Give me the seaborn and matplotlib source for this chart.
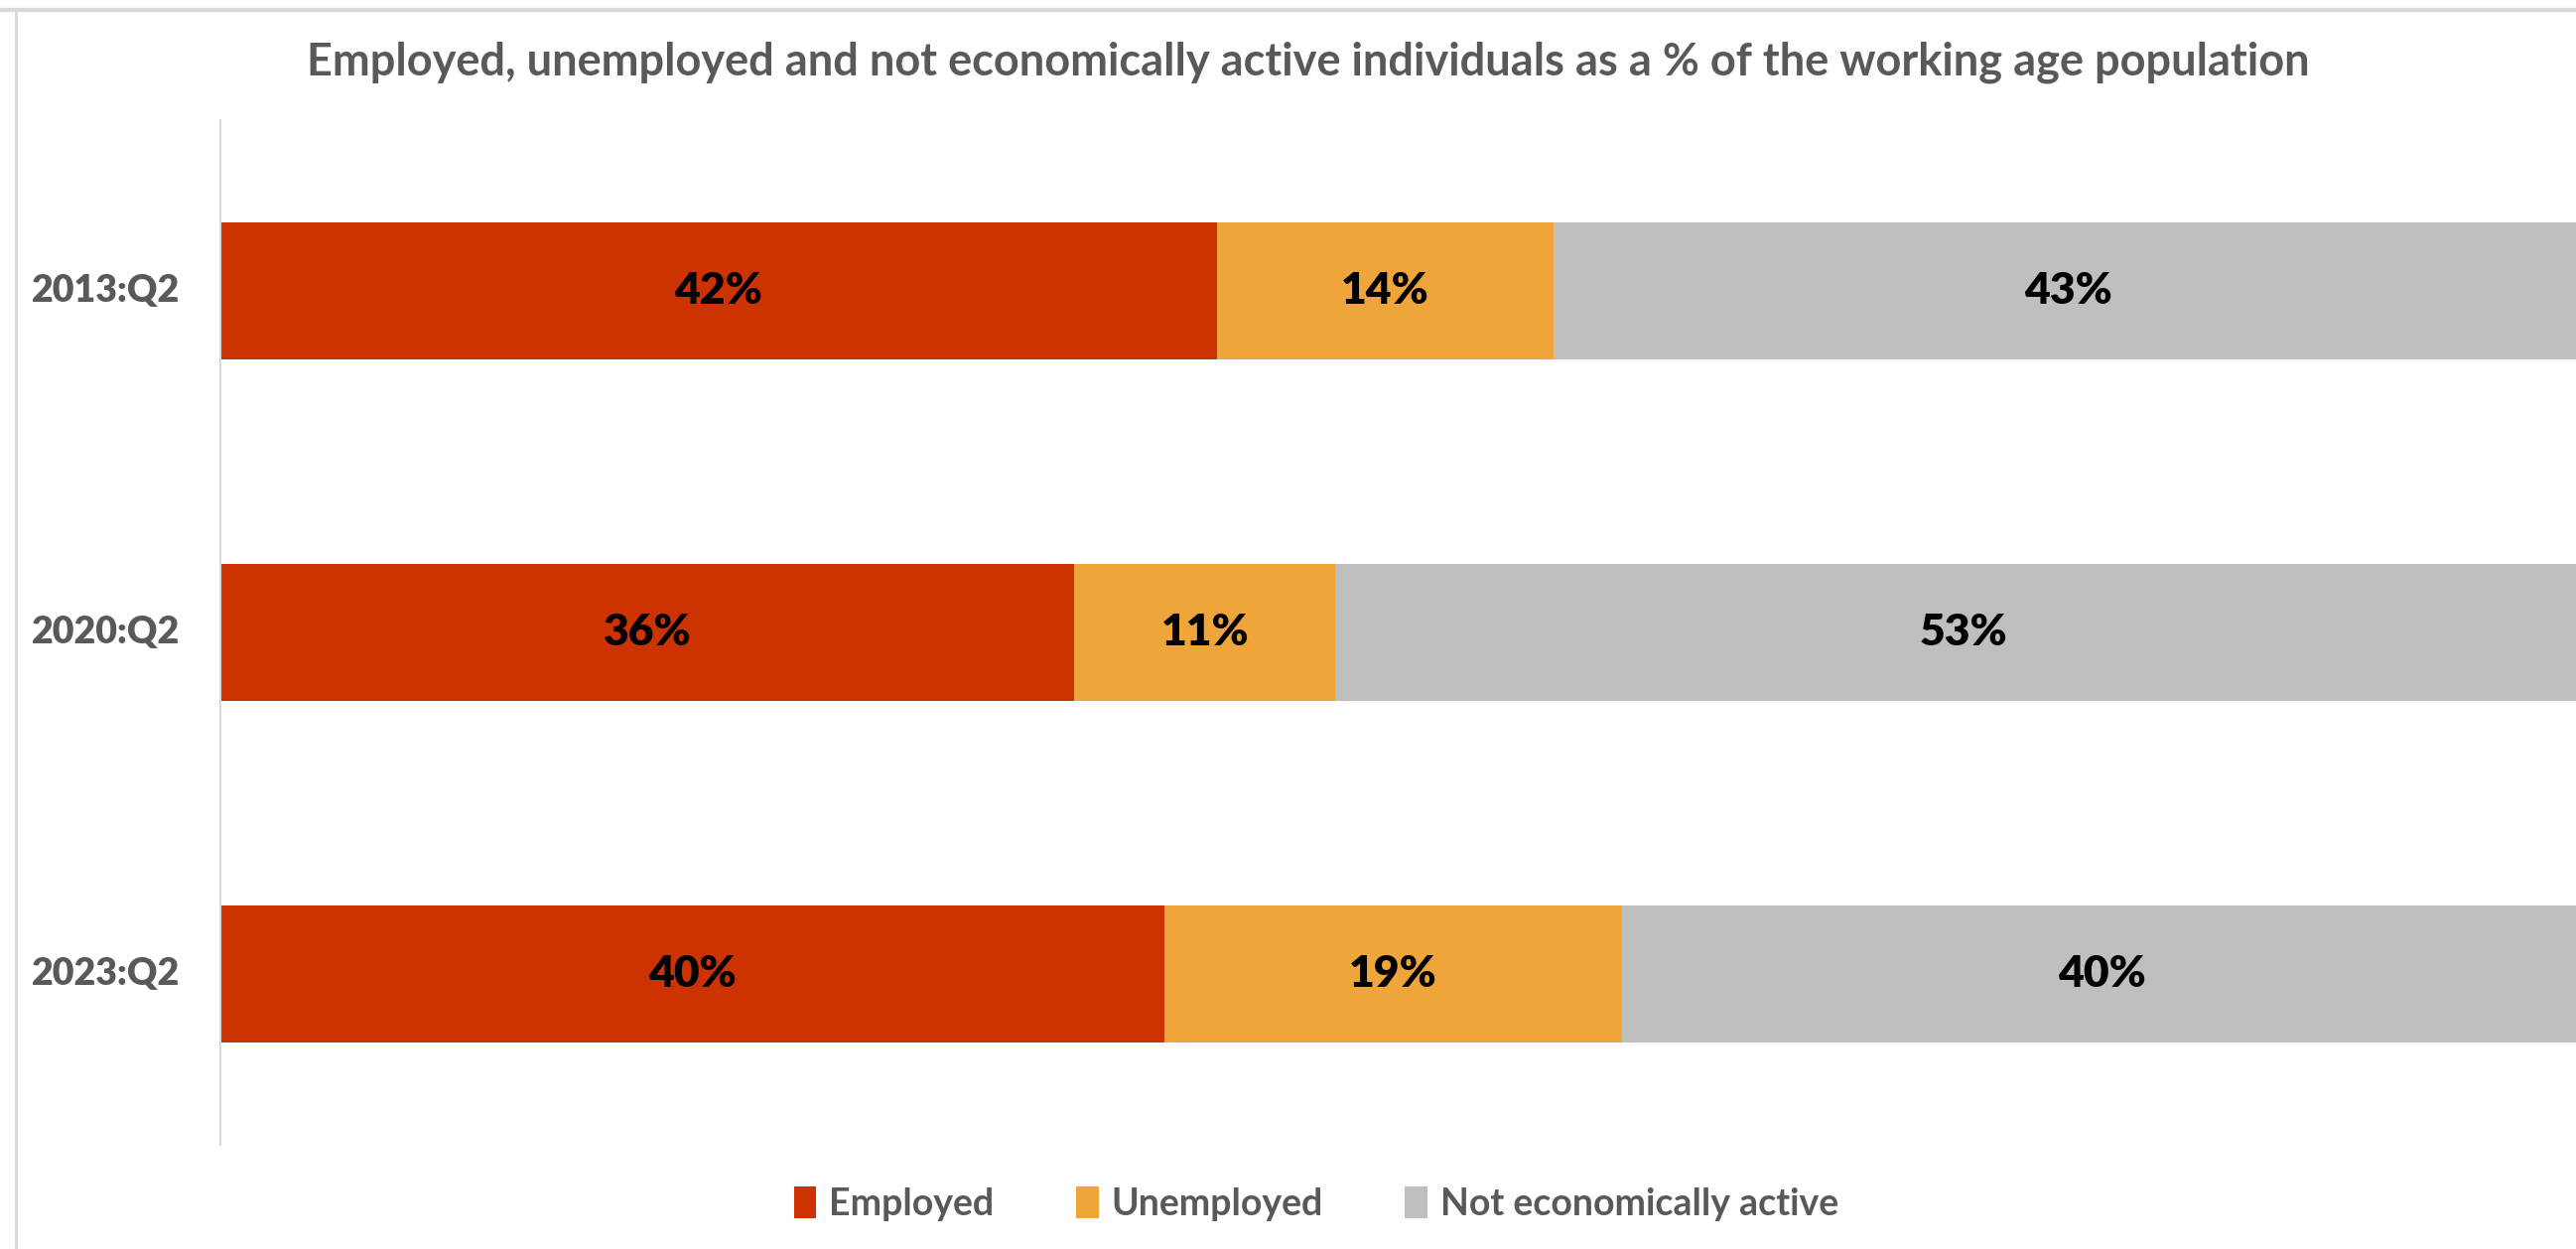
import matplotlib
matplotlib.use("Agg")
import matplotlib.pyplot as plt
from matplotlib.lines import Line2D
from matplotlib.patches import Patch
import seaborn as sns
import pandas as pd
import numpy as np

# ---- data ----
periods = ["2013:Q2", "2020:Q2", "2023:Q2"]
employed = [42.0, 36.0, 39.8]
unemployed = [14.2, 11.0, 19.3]
not_active = [43.4, 53.0, 40.4]
series_names = ["Employed", "Unemployed", "Not economically active"]
title = "Employed, unemployed and not economically active individuals as a % of the working age population"

colors = ["#CC3300", "#F0A53A", "#BFBFBF"]
grey_text = "#595959"

sns.set_theme(style="white")
plt.rcParams["font.family"] = ["Lato", "DejaVu Sans"]

fig = plt.figure(figsize=(25.95, 12.58), dpi=100)
ax = fig.add_axes([0.0855, 0.0835, 1.0 - 0.0855, 0.9038 - 0.0835])

df = pd.DataFrame({"period": periods, "Employed": employed,
                   "Unemployed": unemployed, "Not economically active": not_active})
cum1 = df["Employed"]
cum2 = cum1 + df["Unemployed"]
cum3 = cum2 + df["Not economically active"]

# draw largest cumulative first so the smaller ones overlay it
for cum, col in [(cum3, colors[2]), (cum2, colors[1]), (cum1, colors[0])]:
    sns.barplot(x=cum, y=df["period"], color=col, width=0.4, orient="h",
                ax=ax, saturation=1, linewidth=0)

# value labels
starts = [np.zeros(len(df)), cum1.values, cum2.values]
vals = [df[s].values for s in series_names]
for st, v in zip(starts, vals):
    for i, (s0, val) in enumerate(zip(st, v)):
        ax.text(s0 + val / 2, i, f"{val:.0f}%", ha="center", va="center",
                fontsize=32, fontweight="heavy", color="black")

ax.set_xlim(0, 99.3)
ax.set_ylim(2.5, -0.5)
ax.set_xlabel("")
ax.set_ylabel("")
ax.set_xticks([])
ax.set_yticks(range(len(periods)))
ax.set_yticklabels([""] * len(periods))
ax.tick_params(axis="y", length=0)
for i, p in enumerate(periods):
    ax.annotate(p, xy=(0, i), xycoords=("axes fraction", "data"),
                xytext=(-29, 0), textcoords="offset points",
                ha="right", va="center", fontsize=27, fontweight="heavy",
                color=grey_text, annotation_clip=False)
for sp in ["top", "right", "bottom"]:
    ax.spines[sp].set_visible(False)
ax.spines["left"].set_color("#D9D9D9")
ax.spines["left"].set_linewidth(1.5)

fig.text(0.508, 0.95, title, ha="center", va="center", fontsize=32.5,
         fontweight="bold", color=grey_text)

handles = [Patch(facecolor=c, edgecolor="none") for c in colors]
leg = fig.legend(handles, series_names, loc="center", bbox_to_anchor=(0.511, 0.036),
                 ncol=3, frameon=False, fontsize=27, handlelength=0.6, handleheight=0.9,
                 handletextpad=0.35, columnspacing=2.2)
for t in leg.get_texts():
    t.set_color(grey_text)
    t.set_fontweight("bold")

# screenshot frame lines
fig.add_artist(Line2D([0.0, 1.0], [1 - 10 / 1258, 1 - 10 / 1258], color="#D9D9D9", lw=3,
                      transform=fig.transFigure))
fig.add_artist(Line2D([16 / 2595, 16 / 2595], [0, 1 - 10 / 1258], color="#D9D9D9", lw=2,
                      transform=fig.transFigure))

fig.savefig("out.png", dpi=100)
